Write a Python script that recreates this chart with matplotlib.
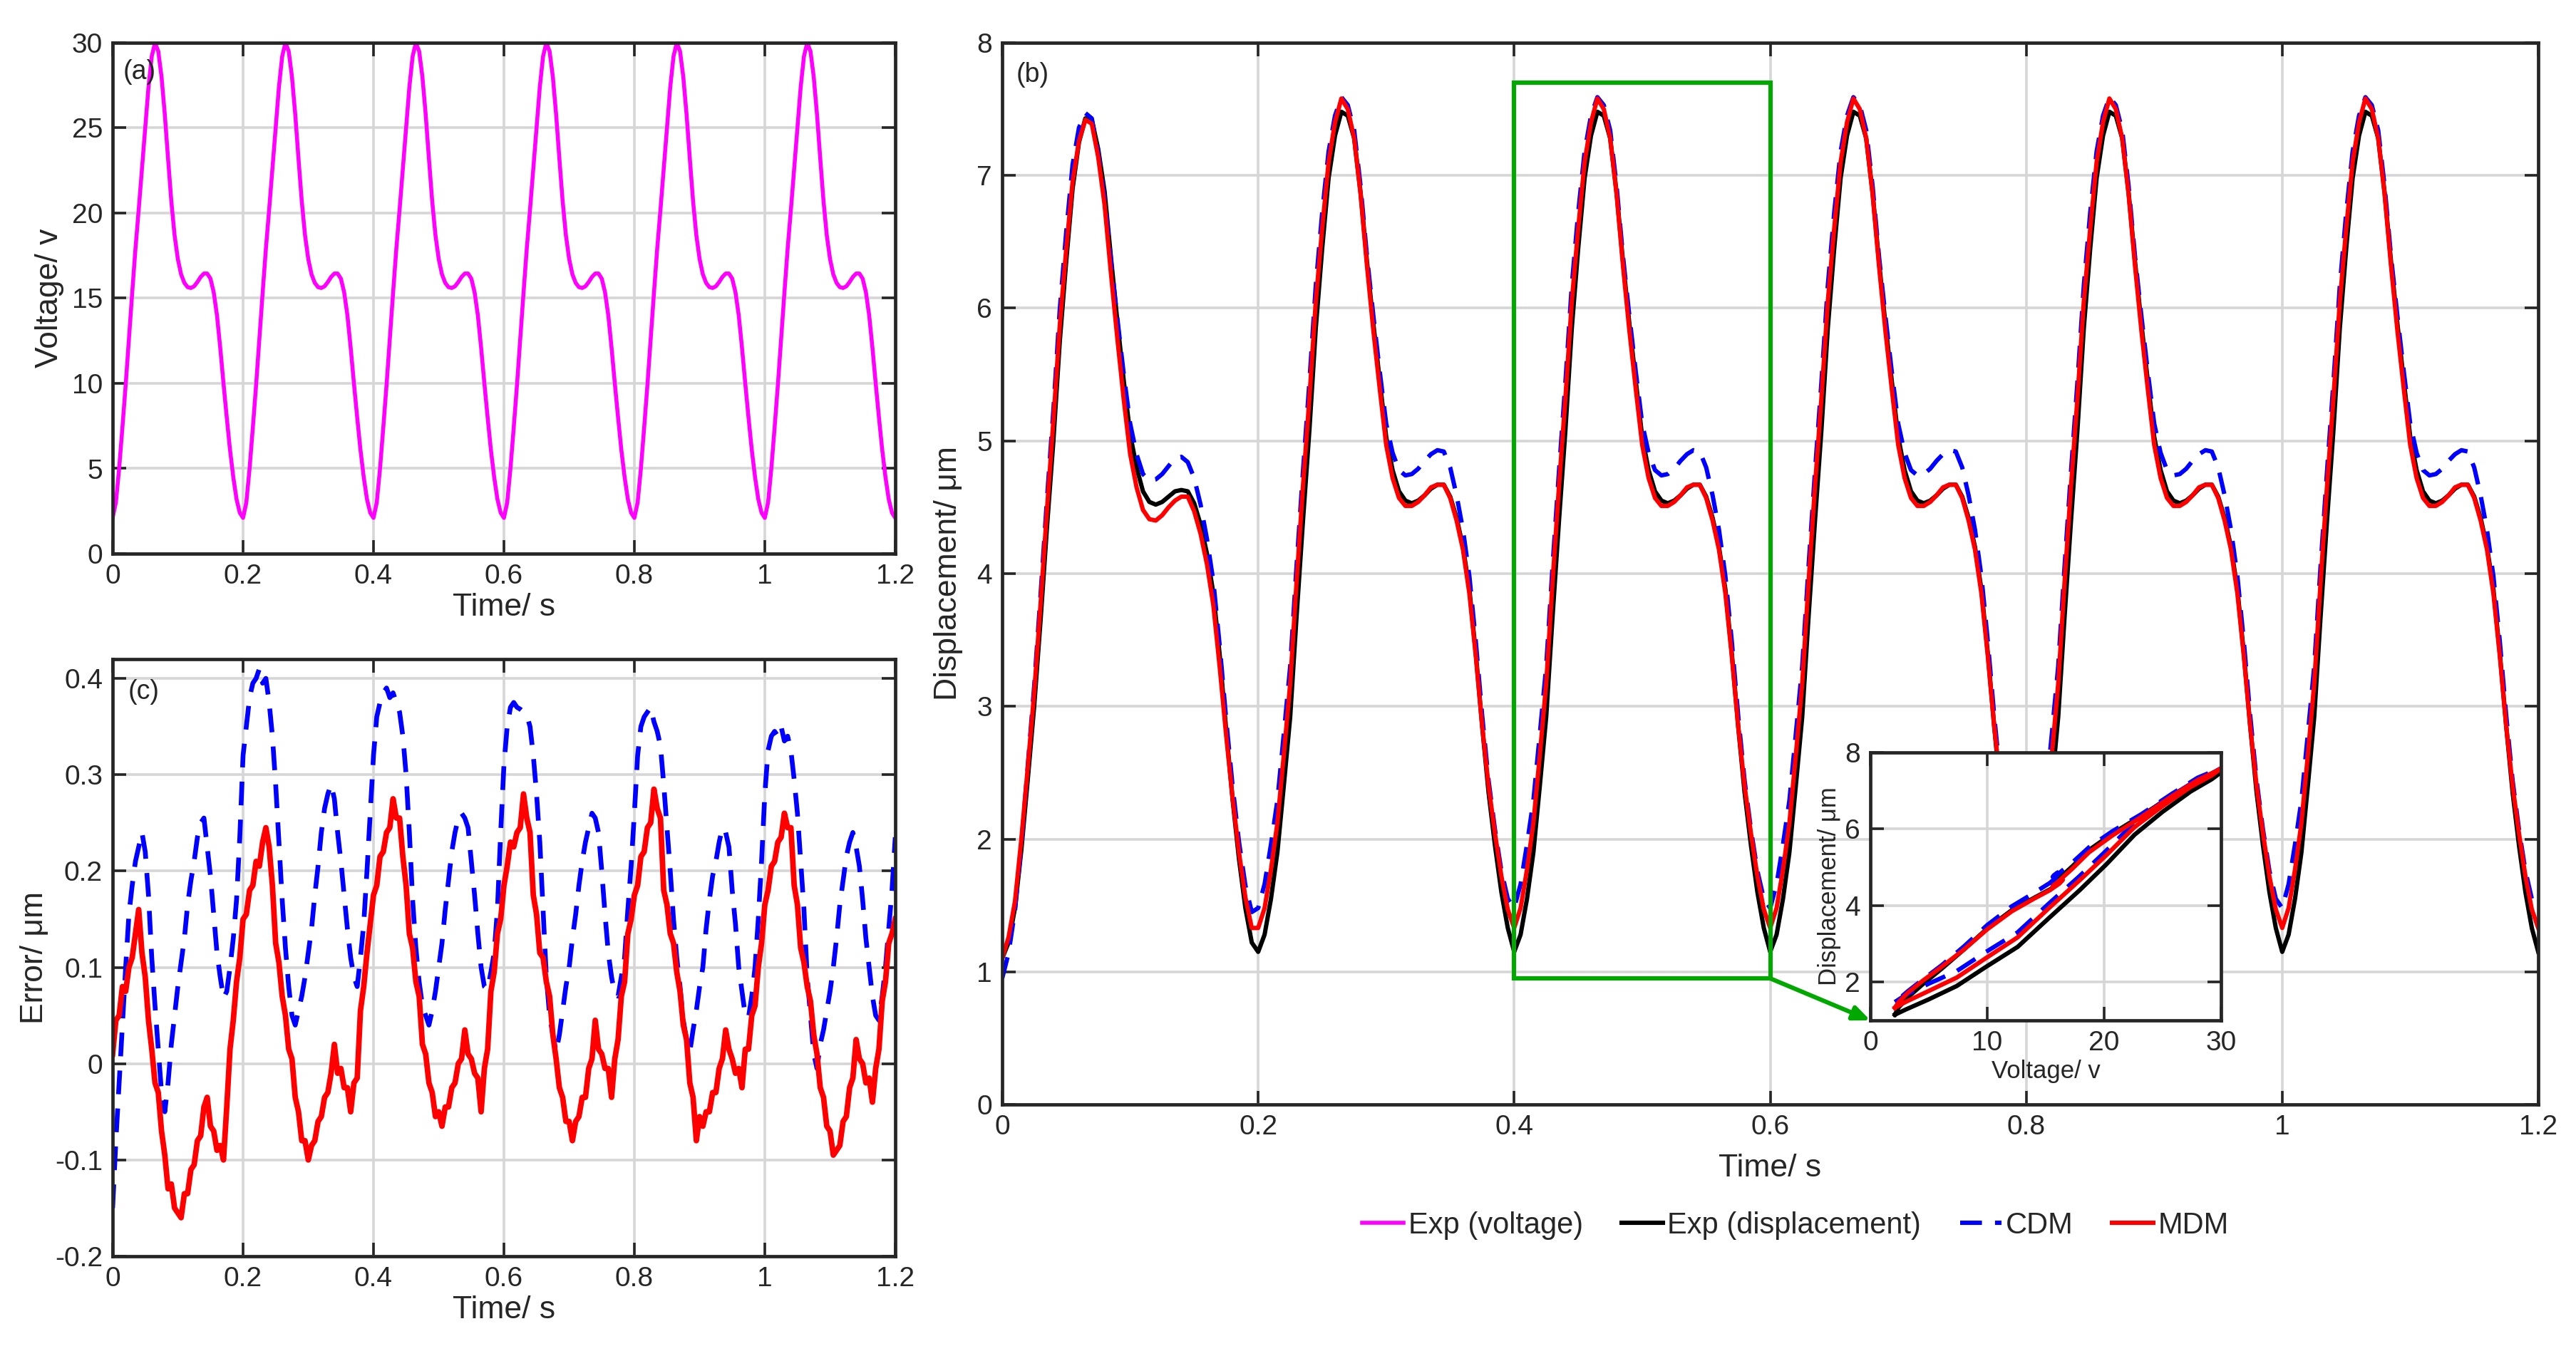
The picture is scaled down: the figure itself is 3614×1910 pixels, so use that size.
import numpy as np
import matplotlib
matplotlib.use('Agg')
import matplotlib.pyplot as plt
from matplotlib.patches import Rectangle
from matplotlib.ticker import FuncFormatter

plt.rcParams['font.family'] = ['Liberation Sans', 'DejaVu Sans']
plt.rcParams['axes.unicode_minus'] = False

# ---------------- data (sampled every 5 ms) ----------------
dt = 0.005
n_rep = 5  # periods after the first one

voltage_period = [2.1, 3.0, 5.0, 7.4, 9.9, 12.6, 15.3, 17.9, 20.2, 22.6,
                  25.0, 27.4, 29.2, 30.0, 29.5, 28.0, 25.8, 23.2, 20.7, 18.7,
                  17.3, 16.4, 15.9, 15.65, 15.6, 15.7, 15.95, 16.25, 16.45, 16.45,
                  16.15, 15.35, 14.0, 12.1, 10.0, 8.0, 6.1, 4.5, 3.2, 2.4]

disp_exp_first = [1.1, 1.22, 1.48, 1.92, 2.45, 3.0, 3.65, 4.35, 5.0, 5.75,
                  6.35, 6.9, 7.25, 7.43, 7.42, 7.2, 6.88, 6.38, 5.9, 5.45,
                  5.05, 4.8, 4.62, 4.54, 4.52, 4.54, 4.58, 4.62, 4.63, 4.62,
                  4.53, 4.37, 4.15, 3.85, 3.38, 2.82, 2.3, 1.85, 1.48, 1.22]
disp_exp_period = [1.15, 1.28, 1.55, 1.9, 2.4, 2.92, 3.68, 4.4, 5.08, 5.85,
                   6.45, 6.98, 7.3, 7.48, 7.45, 7.28, 6.87, 6.35, 5.88, 5.45,
                   5.03, 4.78, 4.62, 4.55, 4.53, 4.55, 4.59, 4.64, 4.67, 4.67,
                   4.58, 4.42, 4.2, 3.88, 3.4, 2.85, 2.35, 1.95, 1.6, 1.33]

disp_cdm_first = [0.95, 1.14, 1.46, 1.96, 2.55, 3.15, 3.84, 4.56, 5.23, 5.99,
                  6.57, 7.08, 7.36, 7.47, 7.43, 7.17, 6.83, 6.36, 5.92, 5.5,
                  5.13, 4.9, 4.75, 4.7, 4.71, 4.75, 4.81, 4.87, 4.88, 4.84,
                  4.72, 4.52, 4.26, 3.94, 3.45, 2.9, 2.4, 1.98, 1.65, 1.45]
disp_cdm_period = [1.48, 1.66, 1.96, 2.29, 2.79, 3.3, 4.06, 4.77, 5.44, 6.17,
                   6.72, 7.18, 7.45, 7.59, 7.53, 7.34, 6.92, 6.39, 5.94, 5.52,
                   5.13, 4.91, 4.78, 4.74, 4.75, 4.79, 4.85, 4.9, 4.93, 4.92,
                   4.8, 4.59, 4.33, 3.98, 3.49, 2.93, 2.44, 2.07, 1.76, 1.55]

disp_mdm_first = [1.1, 1.26, 1.53, 2.0, 2.54, 3.1, 3.77, 4.48, 5.15, 5.87,
                  6.44, 6.95, 7.26, 7.42, 7.39, 7.14, 6.78, 6.26, 5.77, 5.31,
                  4.9, 4.65, 4.48, 4.41, 4.4, 4.44, 4.5, 4.55, 4.58, 4.58,
                  4.47, 4.3, 4.07, 3.76, 3.29, 2.78, 2.31, 1.9, 1.56, 1.33]
disp_mdm_period = [1.33, 1.48, 1.77, 2.12, 2.63, 3.17, 3.94, 4.66, 5.32, 6.05,
                   6.6, 7.1, 7.4, 7.58, 7.5, 7.28, 6.86, 6.32, 5.83, 5.39,
                   4.97, 4.72, 4.57, 4.51, 4.51, 4.54, 4.59, 4.65, 4.67, 4.67,
                   4.57, 4.4, 4.18, 3.85, 3.38, 2.85, 2.4, 2.04, 1.72, 1.47]

err_cdm = [
    -0.15, -0.08, -0.02, 0.04, 0.10, 0.155, 0.185, 0.21, 0.225, 0.24,
    0.22, 0.175, 0.11, 0.06, 0.015, -0.03, -0.05, -0.02, 0.02, 0.05,
    0.08, 0.105, 0.13, 0.165, 0.19, 0.21, 0.235, 0.25, 0.255, 0.225,
    0.195, 0.155, 0.115, 0.09, 0.068, 0.075, 0.10, 0.13, 0.17, 0.235,
    0.32, 0.35, 0.38, 0.395, 0.40, 0.41, 0.395, 0.40, 0.375, 0.34,
    0.29, 0.23, 0.17, 0.12, 0.08, 0.05, 0.04, 0.055, 0.07, 0.09,
    0.115, 0.14, 0.175, 0.205, 0.24, 0.265, 0.28, 0.29, 0.275, 0.24,
    0.21, 0.175, 0.14, 0.11, 0.09, 0.08, 0.11, 0.145, 0.20, 0.26,
    0.32, 0.36, 0.375, 0.385, 0.39, 0.38, 0.385, 0.375, 0.365, 0.34,
    0.30, 0.24, 0.17, 0.12, 0.085, 0.06, 0.05, 0.04, 0.055, 0.075,
    0.10, 0.125, 0.16, 0.19, 0.22, 0.24, 0.255, 0.26, 0.255, 0.245,
    0.21, 0.175, 0.135, 0.10, 0.08, 0.077, 0.095, 0.115, 0.16, 0.24,
    0.31, 0.35, 0.37, 0.375, 0.37, 0.368, 0.365, 0.362, 0.35, 0.32,
    0.28, 0.23, 0.16, 0.09, 0.05, 0.03, 0.012, 0.03, 0.055, 0.08,
    0.10, 0.13, 0.155, 0.185, 0.21, 0.23, 0.245, 0.26, 0.255, 0.24,
    0.20, 0.155, 0.115, 0.09, 0.072, 0.07, 0.09, 0.11, 0.16, 0.205,
    0.26, 0.32, 0.35, 0.36, 0.365, 0.37, 0.355, 0.345, 0.33, 0.29,
    0.245, 0.20, 0.15, 0.11, 0.08, 0.045, 0.025, 0.012, 0.035, 0.055,
    0.08, 0.10, 0.14, 0.17, 0.195, 0.21, 0.23, 0.245, 0.24, 0.225,
    0.18, 0.145, 0.10, 0.075, 0.05, 0.048, 0.07, 0.10, 0.15, 0.21,
    0.28, 0.325, 0.34, 0.345, 0.34, 0.35, 0.335, 0.34, 0.325, 0.295,
    0.26, 0.21, 0.16, 0.09, 0.05, 0.01, -0.005, 0.02, 0.035, 0.055,
    0.075, 0.10, 0.13, 0.165, 0.19, 0.215, 0.23, 0.24, 0.225, 0.205,
    0.17, 0.13, 0.10, 0.07, 0.05, 0.045, 0.07, 0.10, 0.14, 0.18,
    0.235]

err_mdm = [
    0.01, 0.045, 0.05, 0.08, 0.075, 0.10, 0.11, 0.135, 0.16, 0.115,
    0.09, 0.045, 0.015, -0.02, -0.03, -0.07, -0.095, -0.13, -0.125, -0.15,
    -0.155, -0.16, -0.135, -0.135, -0.11, -0.105, -0.08, -0.075, -0.045, -0.035,
    -0.065, -0.07, -0.09, -0.085, -0.1, -0.045, 0.015, 0.045, 0.085, 0.11,
    0.15, 0.155, 0.18, 0.185, 0.21, 0.205, 0.23, 0.245, 0.225, 0.185,
    0.125, 0.105, 0.07, 0.05, 0.015, 0.005, -0.035, -0.05, -0.08, -0.08,
    -0.1, -0.085, -0.08, -0.06, -0.055, -0.035, -0.03, -0.01, 0.02, -0.01,
    -0.005, -0.025, -0.025, -0.05, -0.02, -0.015, 0.055, 0.08, 0.115, 0.145,
    0.175, 0.185, 0.215, 0.22, 0.24, 0.245, 0.275, 0.255, 0.255, 0.215,
    0.185, 0.135, 0.12, 0.085, 0.07, 0.02, 0.01, -0.02, -0.03, -0.055,
    -0.05, -0.065, -0.045, -0.045, -0.025, -0.02, 0.0, 0.005, 0.035, 0.01,
    0.005, -0.01, -0.015, -0.05, -0.005, 0.015, 0.075, 0.095, 0.135, 0.15,
    0.185, 0.205, 0.23, 0.225, 0.24, 0.245, 0.28, 0.255, 0.24, 0.175,
    0.155, 0.115, 0.11, 0.085, 0.07, 0.03, 0.005, -0.025, -0.035, -0.06,
    -0.06, -0.08, -0.06, -0.055, -0.035, -0.035, -0.005, 0.005, 0.045, 0.015,
    0.01, -0.005, -0.005, -0.035, 0.005, 0.025, 0.07, 0.085, 0.135, 0.15,
    0.175, 0.185, 0.215, 0.22, 0.245, 0.25, 0.285, 0.265, 0.255, 0.18,
    0.165, 0.135, 0.125, 0.095, 0.075, 0.04, 0.025, -0.02, -0.035, -0.08,
    -0.055, -0.065, -0.05, -0.05, -0.03, -0.03, -0.005, 0.005, 0.035, 0.015,
    0.005, -0.01, -0.005, -0.025, 0.015, 0.015, 0.05, 0.06, 0.1, 0.125,
    0.165, 0.18, 0.205, 0.21, 0.23, 0.235, 0.26, 0.245, 0.245, 0.185,
    0.165, 0.12, 0.105, 0.08, 0.065, 0.03, 0.01, -0.025, -0.035, -0.065,
    -0.07, -0.095, -0.09, -0.085, -0.06, -0.055, -0.025, -0.015, 0.025, 0.005,
    0.0, -0.02, -0.015, -0.04, -0.005, 0.015, 0.065, 0.085, 0.125, 0.135,
    0.15]

legend_labels = ['Exp (voltage)', 'Exp (displacement)', 'CDM', 'MDM']


def assemble(first, period):
    return np.array(list(first) + list(period) * n_rep + [period[0]])


voltage = assemble(voltage_period, voltage_period)
disp_exp = assemble(disp_exp_first, disp_exp_period)
disp_cdm = assemble(disp_cdm_first, disp_cdm_period)
disp_mdm = assemble(disp_mdm_first, disp_mdm_period)
t = np.arange(len(voltage)) * dt
t_err = np.arange(len(err_cdm)) * dt

# ---------------- styling ----------------
W, H = 3614, 1910
fig = plt.figure(figsize=(W / 200, H / 200), dpi=200)

MAG = '#FF00FF'
BLU = '#0000FF'
RED = '#FF0000'
GRN = '#00A800'
TXT = '#262626'
TICK = 14
LAB = 16

fmt = FuncFormatter(lambda v, p: f'{v:g}')


def style(ax, ticksize=TICK):
    ax.tick_params(direction='in', top=True, right=True, length=7, width=1.3,
                   labelsize=ticksize, pad=5, colors=TXT)
    for s in ax.spines.values():
        s.set_linewidth(1.7)
        s.set_color(TXT)
    ax.grid(True, color='#d6d6d6', lw=1.3)
    ax.set_axisbelow(True)
    ax.xaxis.set_major_formatter(fmt)
    ax.yaxis.set_major_formatter(fmt)


def box(l, t_, r, b):
    return [l / W, 1 - b / H, (r - l) / W, (b - t_) / H]


ax_a = fig.add_axes(box(158, 60, 1256, 777))
ax_c = fig.add_axes(box(158, 925, 1256, 1763))
ax_b = fig.add_axes(box(1406, 60, 3561, 1550))
ax_in = fig.add_axes(box(2624, 1056, 3116, 1432))
ax_in.set_zorder(5)

# (a) voltage
style(ax_a)
l_v, = ax_a.plot(t, voltage, color=MAG, lw=2.0)
ax_a.set_xlim(0, 1.2)
ax_a.set_ylim(0, 30)
ax_a.set_xticks(np.arange(0, 1.21, 0.2))
ax_a.set_yticks(np.arange(0, 31, 5))
ax_a.set_xlabel('Time/ s', fontsize=LAB, labelpad=2, color=TXT)
ax_a.set_ylabel('Voltage/ v', fontsize=LAB, labelpad=4, color=TXT)
ax_a.text(0.013, 0.968, '(a)', transform=ax_a.transAxes, va='top', ha='left',
          fontsize=13.5, color=TXT)

# (c) error
style(ax_c)
ax_c.plot(t_err, err_cdm, color=BLU, lw=2.4, ls=(0, (5, 3)))
ax_c.plot(t_err, err_mdm, color=RED, lw=2.8)
ax_c.set_xlim(0, 1.2)
ax_c.set_xticks(np.arange(0, 1.21, 0.2))
ax_c.set_yticks(np.arange(-0.2, 0.41, 0.1))
ax_c.set_ylim(-0.2, 0.42)
ax_c.set_xlabel('Time/ s', fontsize=LAB, labelpad=2, color=TXT)
ax_c.set_ylabel('Error/ μm', fontsize=LAB, labelpad=3, color=TXT)
ax_c.text(0.02, 0.967, '(c)', transform=ax_c.transAxes, va='top', ha='left',
          fontsize=13.5, color=TXT)

# (b) displacement
style(ax_b)
l_e, = ax_b.plot(t, disp_exp, color='black', lw=2.2)
l_c, = ax_b.plot(t, disp_cdm, color=BLU, lw=2.2, ls=(0, (5, 3)))
l_m, = ax_b.plot(t, disp_mdm, color=RED, lw=2.2)
ax_b.set_xlim(0, 1.2)
ax_b.set_ylim(0, 8)
ax_b.set_xticks(np.arange(0, 1.21, 0.2))
ax_b.set_yticks(np.arange(0, 9, 1))
ax_b.set_xlabel('Time/ s', fontsize=LAB, labelpad=7, color=TXT)
ax_b.set_ylabel('Displacement/ μm', fontsize=LAB, labelpad=7, color=TXT)
ax_b.text(0.009, 0.982, '(b)', transform=ax_b.transAxes, va='top', ha='left',
          fontsize=13.5, color=TXT)
ax_b.add_patch(Rectangle((0.4, 0.95), 0.2, 6.75, fill=False, ec=GRN, lw=2.2, zorder=6))

# inset: hysteresis loop of the boxed period (0.4 s - 0.6 s)
sel = (t >= 0.4 - 1e-9) & (t <= 0.6 + 1e-9)
style(ax_in)
ax_in.set_facecolor('white')
ax_in.plot(voltage[sel], disp_exp[sel], color='black', lw=2.2)
ax_in.plot(voltage[sel], disp_cdm[sel], color=BLU, lw=2.2, ls=(0, (5, 3)))
ax_in.plot(voltage[sel], disp_mdm[sel], color=RED, lw=2.2)
ax_in.set_xlim(0, 30)
ax_in.set_ylim(1, 8)
ax_in.set_xticks([0, 10, 20, 30])
ax_in.set_yticks([2, 4, 6, 8])
ax_in.set_xlabel('Voltage/ v', fontsize=12.5, labelpad=2, color=TXT)
ax_in.set_ylabel('Displacement/ μm', fontsize=12.5, labelpad=2, color=TXT)

ax_in.annotate('', xy=(0, 0), xycoords='axes fraction',
               xytext=(0.6, 0.95), textcoords=ax_b.transData,
               arrowprops=dict(arrowstyle='-|>,head_length=0.7,head_width=0.3',
                               color=GRN, lw=2.2, shrinkA=0, shrinkB=0),
               annotation_clip=False)

fig.legend([l_v, l_e, l_c, l_m], legend_labels, loc='center',
           bbox_to_anchor=(0.697, 0.0995), ncol=4, frameon=False, fontsize=15,
           handlelength=1.4, handletextpad=0.15, columnspacing=1.3,
           labelcolor=TXT)

fig.savefig('out.png', dpi=200, facecolor='white')
